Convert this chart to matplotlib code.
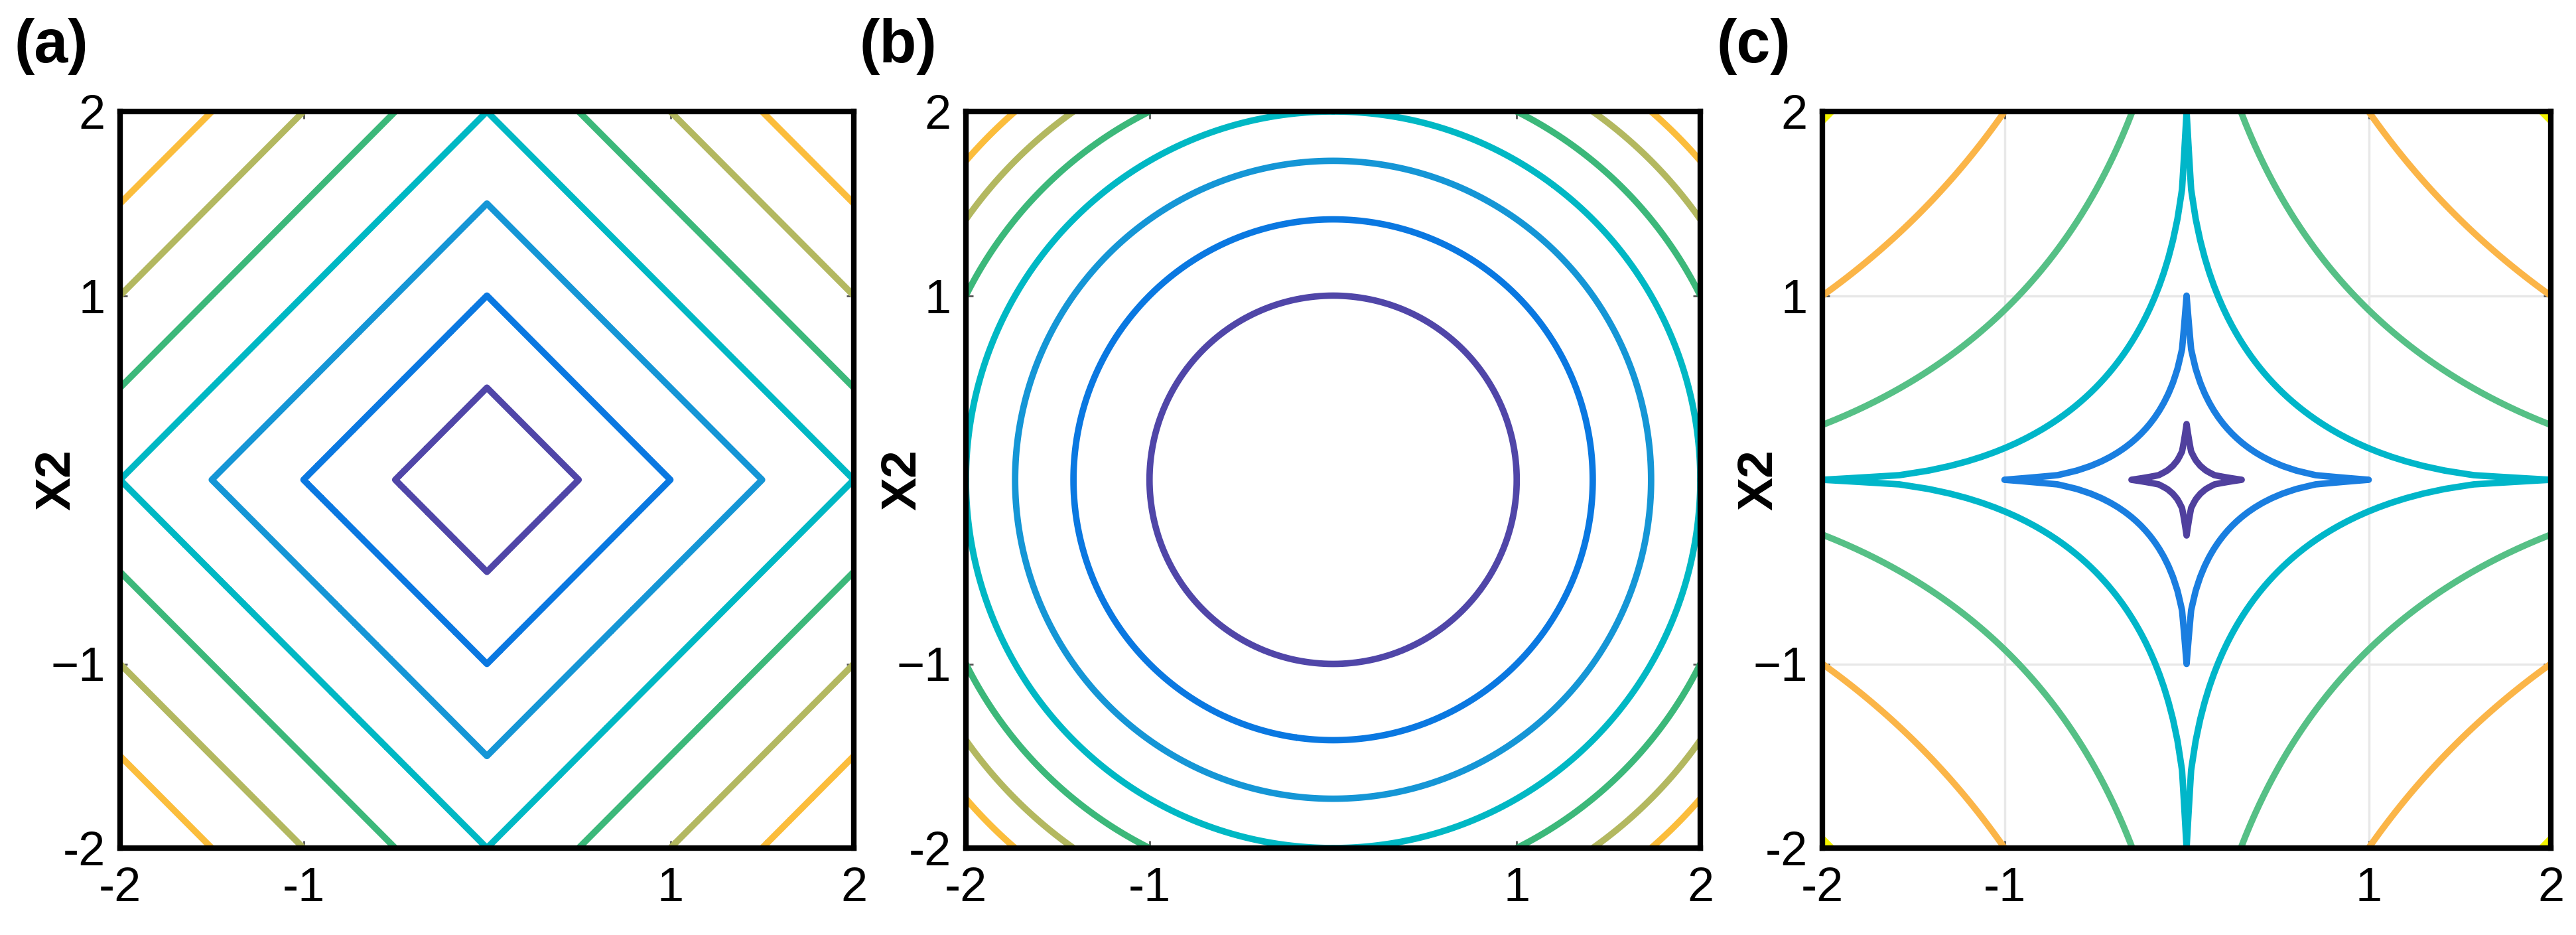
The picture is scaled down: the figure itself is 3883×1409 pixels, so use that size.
import numpy as np
import matplotlib
matplotlib.use('Agg')
import matplotlib.pyplot as plt

# ---------------- data ----------------
panel_labels = ['(a)', '(b)', '(c)']
ylabel_text = 'X2'
xtick_vals = [-2, -1, 1, 2]
xtick_labels = ['-2', '-1', '1', '2']
ytick_vals = [-2, -1, 1, 2]
ytick_labels = ['-2', '\u22121', '1', '2']

# contour levels
levels_l1 = [0.5, 1.0, 1.5, 2.0, 2.5, 3.0, 3.5]        # |x1| + |x2|
levels_l2 = [1, 2, 3, 4, 5, 6, 7]                      # x1^2 + x2^2
levels_lhalf = [0.55, 1.0, 1.414, 1.96, 2.414, 2.81]   # sqrt|x1| + sqrt|x2|

# ---------------- styles ----------------
colors_7 = ['#5046a8', '#0a78e1', '#1596d6', '#00b8c4', '#3cb87a', '#b3b860', '#fbbd3c']
colors_c = ['#50409e', '#1a7ee0', '#00b6c9', '#56c086', '#fbb548', '#f4f400']

W, H, DPI = 3883, 1409, 100
plt.rcParams['font.family'] = ['Liberation Sans', 'DejaVu Sans']
fig = plt.figure(figsize=(W / DPI, H / DPI), dpi=DPI)

frames = [(181, 1287), (1456, 2563), (2747, 3845)]
top, bottom = 168, 1278

# sampling grid
g = np.linspace(-2, 2, 161)
X, Y = np.meshgrid(g, g)
surfaces = [np.abs(X) + np.abs(Y),
            X ** 2 + Y ** 2,
            np.sqrt(np.abs(X)) + np.sqrt(np.abs(Y))]
level_sets = [levels_l1, levels_l2, levels_lhalf]
color_sets = [colors_7, colors_7, colors_c]

for i, ((l, r), Z, lev, cols) in enumerate(zip(frames, surfaces, level_sets, color_sets)):
    ax = fig.add_axes([l / W, 1 - bottom / H, (r - l) / W, (bottom - top) / H])
    cs = ax.contour(X, Y, Z, levels=lev, colors=cols, linewidths=7)
    try:
        cs.set_joinstyle('round')
        cs.set_capstyle('round')
    except Exception:
        pass
    ax.set_xlim(-2, 2)
    ax.set_ylim(-2, 2)
    ax.set_xticks(xtick_vals, xtick_labels)
    ax.set_yticks(ytick_vals, ytick_labels)
    ax.tick_params(direction='in', length=8, width=2, color='#555555',
                   top=True, right=True, labelsize=52)
    ax.tick_params(axis='x', pad=20)
    ax.tick_params(axis='y', pad=16)
    for sp in ax.spines.values():
        sp.set_linewidth(6)
        sp.set_color('black')
    if i == 2:
        ax.set_axisbelow(True)
        ax.grid(True, color='#e8e8e8', linewidth=2.5)
    fig.text((l - 95) / W, 1 - ((top + bottom) / 2) / H, ylabel_text,
             rotation=90, ha='center', va='center', fontsize=54, fontweight='bold')
    fig.text((l - 160) / W, 1 - 70 / H, panel_labels[i],
             ha='left', va='center', fontsize=66, fontweight='bold')

fig.savefig('out.png', dpi=DPI, facecolor='white')
